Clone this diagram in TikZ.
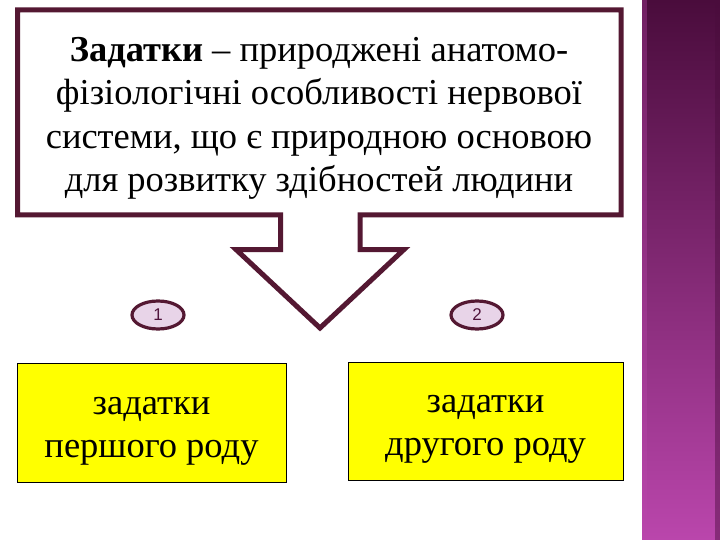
\documentclass[tikz,border=0pt]{standalone}
\usepackage{fontspec}
\setmainfont{Liberation Serif}
\newfontfamily\digitfont{Liberation Sans}
\usetikzlibrary{shapes.geometric}
\definecolor{calloutline}{RGB}{84,24,50}
\definecolor{ovalfill}{RGB}{232,212,232}
\definecolor{ovaltext}{RGB}{80,20,60}
\definecolor{barTop}{RGB}{74,12,60}
\definecolor{barMid}{RGB}{124,40,112}
\definecolor{barBot}{RGB}{186,70,172}
\definecolor{boxyellow}{RGB}{255,255,0}
\tikzset{
  titleline/.style={anchor=base, font=\fontsize{36.5}{42}\selectfont, inner sep=0pt},
  boxline/.style={anchor=base, font=\fontsize{36.5}{42}\selectfont, inner sep=0pt},
  yellowbox/.style={draw=black, line width=1pt, fill=boxyellow, anchor=north west, inner sep=0pt},
  numoval/.style={ellipse, draw=calloutline, line width=3.2pt, fill=ovalfill, minimum width=52pt, minimum height=28pt, inner sep=0pt, text=ovaltext, font=\digitfont\fontsize{17}{17}\selectfont}
}
\begin{document}
\begin{tikzpicture}[x=1pt,y=-1pt]
\useasboundingbox (0,0) rectangle (720,540);
\fill[white] (0,0) rectangle (720,540);
% purple side bar
\shade[top color=barTop, middle color=barMid, bottom color=barBot] (642,0) rectangle (720,540);
\fill[barTop, opacity=0.45] (715,0) rectangle (720,540);
\fill[barBot, opacity=0.35] (642,0) rectangle (647,540);
% callout with down arrow
\draw[calloutline, line width=5pt, line join=miter]
  (17.5,10) -- (621,10) -- (621,215) -- (360,215) -- (360,249.5) -- (404,249.5)
  -- (320,328) -- (236,249.5) -- (280.5,249.5) -- (280.5,215) -- (17.5,215) -- cycle;
\node[titleline] (t1) at (319,62) {\textbf{Задатки} – природжені анатомо-};
\node[titleline] (t2) at (319,105) {фізіологічні особливості нервової};
\node[titleline] (t3) at (319,149) {системи, що є природною основою};
\node[titleline] (t4) at (319,192) {для розвитку здібностей людини};
% numbers
\node[numoval] (n1) at (158,315) {1};
\node[numoval] (n2) at (477,315) {2};
% yellow boxes
\node[yellowbox, minimum width=269pt, minimum height=119pt] (b1) at (17,363) {};
\node[yellowbox, minimum width=275pt, minimum height=118pt] (b2) at (348,362) {};
\node[boxline] (b1a) at (151.5,414) {задатки};
\node[boxline] (b1b) at (151.5,457) {першого роду};
\node[boxline] (b2a) at (485.5,412) {задатки};
\node[boxline] (b2b) at (485.5,455) {другого роду};
\end{tikzpicture}
\end{document}
